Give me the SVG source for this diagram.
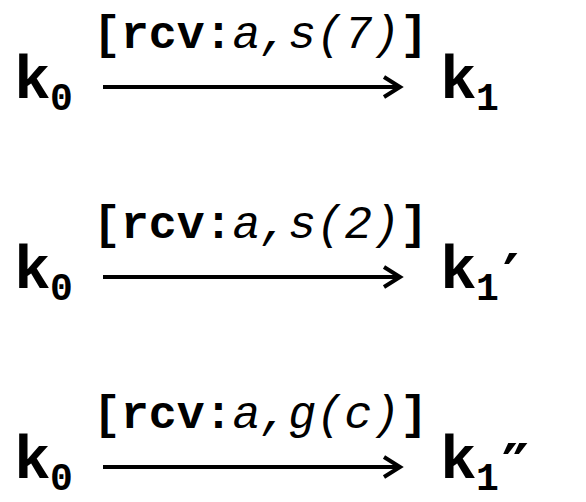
<svg xmlns="http://www.w3.org/2000/svg" width="586" height="502" viewBox="0 0 586 502">
<style>
.k{font-family:"Courier New","Liberation Mono",monospace;font-weight:bold;font-size:61px;fill:#000}
.sub{font-family:"Courier New","Liberation Mono",monospace;font-weight:bold;font-size:38px;fill:#000}
.lbl{font-family:"Courier New","Liberation Mono",monospace;font-size:46.5px;fill:#000}
.b{font-weight:bold}
.i{font-style:italic}
.pr{font-family:"DejaVu Sans",sans-serif;font-weight:bold;font-size:60px;fill:#000}
.arr{stroke:#000;stroke-width:4;fill:none}
</style>
<rect width="586" height="502" fill="#fff"/>
<g id="row1-k0"><text class="k" x="14" y="98">k</text><text class="sub" x="50" y="110">0</text></g>
<g id="row1-k1"><text class="k" x="440" y="98">k</text><text class="sub" x="476" y="110">1</text></g>
<g id="row2-k0"><text class="k" x="14" y="288">k</text><text class="sub" x="50" y="300">0</text></g>
<g id="row2-k1p"><text class="k" x="440" y="288">k</text><text class="sub" x="476" y="300">1</text><text class="pr" x="503" y="297">′</text></g>
<g id="row3-k0"><text class="k" x="14" y="478">k</text><text class="sub" x="50" y="490">0</text></g>
<g id="row3-k1pp"><text class="k" x="440" y="478">k</text><text class="sub" x="476" y="490">1</text><text class="pr" x="502" y="487">″</text></g>
<g id="connectors">
<g id="e1"><line class="arr" x1="103" y1="87" x2="400" y2="87"/><polyline class="arr" points="384,77 400,87 384,97"/>
<text class="lbl" x="93" y="48"><tspan class="b">[rcv:</tspan><tspan class="i">a,s(7)</tspan><tspan class="b">]</tspan></text></g>
<g id="e2"><line class="arr" x1="103" y1="277" x2="400" y2="277"/><polyline class="arr" points="384,267 400,277 384,287"/>
<text class="lbl" x="93" y="238"><tspan class="b">[rcv:</tspan><tspan class="i">a,s(2)</tspan><tspan class="b">]</tspan></text></g>
<g id="e3"><line class="arr" x1="103" y1="467" x2="400" y2="467"/><polyline class="arr" points="384,457 400,467 384,477"/>
<text class="lbl" x="93" y="428"><tspan class="b">[rcv:</tspan><tspan class="i">a,g(c)</tspan><tspan class="b">]</tspan></text></g>
</g>
</svg>
